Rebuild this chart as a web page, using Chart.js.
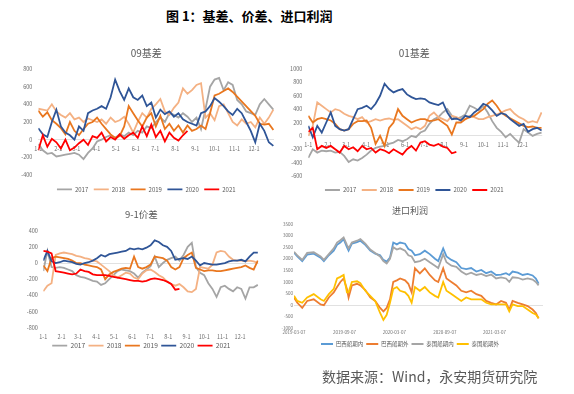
<!DOCTYPE html>
<html lang="zh-CN">
<head>
  <meta charset="UTF-8" />
  <title>基差、价差、进口利润</title>
  <script src="https://cdn.jsdelivr.net/npm/chart.js"></script>
  <style>
    * { box-sizing: border-box; margin: 0; padding: 0; }
    body {
      width: 574px;
      height: 394px;
      background: #fff;
      position: relative;
      overflow: hidden;
      font-family: 'Noto Sans CJK SC', 'Noto Sans', sans-serif;
    }
    #main-title {
      position: absolute; left: 166px; top: 9px;
      font-size: 13px; line-height: 1; font-weight: bold; color: #000;
      white-space: nowrap;
    }
    #source {
      position: absolute; left: 322px; top: 369px;
      font-size: 14px; line-height: 1; color: #595959;
      white-space: nowrap;
    }
    canvas { position: absolute; }
  </style>
</head>
<body>
  <div id="main-title">图 1：基差、价差、进口利润</div>

  <canvas id="c09" width="290" height="163" style="left:0;top:40px"></canvas>
  <canvas id="c01" width="290" height="163" style="left:280px;top:40px"></canvas>
  <canvas id="c91" width="290" height="160" style="left:0;top:200px"></canvas>
  <canvas id="cimp" width="306" height="158" style="left:268px;top:200px"></canvas>

  <div id="source">数据来源：Wind，永安期货研究院</div>

  <script>
    // ---- shared x axis for the seasonal panels (day of year) ----
    const DAYS = [0,7,14,21,28,35,42,49,56,63,70,77,84,91,98,105,112,119,126,133,140,147,154,161,168,175,
                  182,189,196,203,210,217,224,231,238,245,252,259,266,273,280,287,294,301,308,315,322,329,336,343,350,357,364];
    const MONTH_DAYS = [0,31,59,90,120,151,181,212,243,273,304,334];
    const MONTH_LABELS = ['1-1','2-1','3-1','4-1','5-1','6-1','7-1','8-1','9-1','10-1','11-1','12-1'];
    const YEARS = ['2017','2018','2019','2020','2021'];
    const YEAR_COLORS = ['#a5a5a5','#f4b183','#e9771f','#2f5597','#ff0000'];

    // ---- 09基差 ----
    const B09_2017 = [-50,-120,-160,-150,-190,-180,-170,-160,-150,-170,-220,-150,-100,-20,0,30,50,20,60,40,80,50,100,80,150,130,
                      200,250,200,300,280,250,300,260,200,250,120,350,600,680,700,560,650,620,450,400,320,300,280,400,460,400,340];
    const B09_2018 = [350,340,330,400,320,280,250,300,230,250,200,240,220,200,230,180,250,200,220,260,180,80,200,300,250,350,
                      400,460,320,280,360,420,580,520,560,620,640,250,300,220,380,400,300,200,160,230,180,200,140,250,180,250,340];
    const B09_2019 = [330,260,310,220,180,130,60,200,100,50,120,180,200,250,180,120,60,20,40,150,380,300,220,150,250,300,
                      150,270,120,180,100,160,80,160,100,120,160,120,300,500,520,550,580,540,null,null,null,null,270,180,170,180,110];
    const B09_2020 = [130,60,30,200,340,150,80,50,0,150,100,300,330,350,380,350,480,680,550,450,580,480,450,500,380,420,
                      250,340,290,320,260,300,230,200,180,160,300,320,380,470,430,380,320,280,350,300,200,100,-30,180,100,-30,-70];
    const B09_2021 = [-120,50,-80,10,-30,-100,0,-120,-90,-40,0,-60,40,20,80,-20,30,0,60,10,50,80,20,150,40,170,
                      30,100,-20,80,20,-10,50,100];

    // ---- 01基差 ----
    const B01_2017 = [-330,-200,-250,-220,-230,-220,-250,-240,-300,-390,-350,-370,-330,-280,-220,-180,-160,-150,-120,-100,-60,-80,-50,0,-20,50,
                      80,180,250,280,350,400,300,250,280,320,450,420,380,450,350,220,120,60,-20,30,-40,-100,100,50,0,30,50];
    const B01_2018 = [0,150,500,450,400,350,400,380,330,300,280,250,280,200,220,250,230,250,260,240,250,200,150,100,130,100,
                      150,300,350,280,250,220,300,280,250,250,300,280,250,250,280,300,320,350,380,400,330,280,250,200,220,200,350];
    const B01_2019 = [300,200,250,270,250,230,180,100,80,100,180,220,220,230,120,-120,0,-150,120,200,400,300,250,200,230,250,
                      250,220,230,250,200,150,20,200,200,250,280,300,350,400,480,530,450,350,300,null,null,null,150,130,140,120,120];
    const B01_2020 = [150,-20,150,50,200,350,150,100,80,100,250,400,420,450,400,480,600,780,700,650,680,700,620,580,550,560,
                      550,500,480,460,500,350,250,260,230,300,280,350,400,480,450,380,300,340,320,250,200,150,180,60,100,120,80];
    const B01_2021 = [60,120,-200,-150,-180,-150,-200,-250,-150,-200,-170,-230,-150,-200,-180,-250,-200,-220,-260,-200,-240,-280,-200,-150,-220,-100,
                      -80,-130,-150,-120,-160,-180,-260,-240];

    // ---- 9-1价差 ----
    const S91_2017 = [-100,150,-50,-60,-50,-60,-80,-100,-150,-170,-180,-200,-220,-230,-270,-250,-200,-150,-100,-80,-90,-100,-130,-180,-120,-80,
                      -40,80,-50,0,40,60,80,30,100,200,250,-50,-120,-150,-250,-320,-420,-300,-280,-320,-350,-300,-320,-440,-300,-300,-270];
    const S91_2018 = [-350,-280,-250,100,120,130,120,110,90,80,60,50,30,20,-20,-60,-100,-150,-180,-150,-120,-130,-180,-200,-130,-90,
                      -80,-110,-150,-180,-230,-260,-280,-260,-300,-350,-360,-320,-50,-60,-70,-20,130,150,140,80,40,30,30,20,30,20,0];
    const S91_2019 = [-30,-100,60,80,70,60,50,30,0,0,-20,-30,-40,-50,-80,-200,-140,-110,-90,-70,-60,-70,80,-50,-70,-50,
                      -20,80,70,60,30,-50,-80,-50,60,100,130,-60,-80,-100,-90,-90,-100,-100,-90,-80,-70,-60,-50,-30,-60,-80,30];
    const S91_2020 = [30,150,20,0,10,30,20,10,-10,-20,0,10,30,60,100,80,110,120,130,140,150,180,170,180,170,190,
                      220,280,260,220,200,150,40,50,60,50,80,30,-30,0,-10,-20,-20,-10,0,20,30,30,40,20,80,130,130];
    const S91_2021 = [150,140,120,-100,-110,-120,-130,-140,-130,-80,-100,-110,-140,-150,-150,-150,-160,-170,-180,-190,-200,-210,-220,-220,-230,-220,
                      -200,-190,-200,-210,-230,-260,-330,-320];

    // ---- 进口利润 (days since 2019-03-07) ----
    const IMP_DAYS = [0,12,30,48,72,97,109,127,145,157,169,181,193,199,211,230,242,260,278,296,314,326,338,350,362,375,387,405,417,
                      429,441,459,477,495,514,526,544,556,574,592,610,628,646,665,683,701,719,737,755,773,785,797,816,834,852,870,882,892];
    const IMP_TICK_DAYS = [0,184,366,550,731];
    const IMP_TICK_LABELS = ['2019-03-07','2019-09-07','2020-03-07','2020-09-07','2021-03-07'];
    const IMP_NAMES = ['巴西船期内','巴西船期外','泰国船期内','泰国船期外'];
    const IMP_COLORS = ['#5b9bd5','#ed7d31','#a5a5a5','#ffc000'];
    const BR_IN  = [2260,2100,1900,2180,2220,2050,1900,2150,2350,2600,2700,2850,2500,2350,2650,2720,2780,2600,2350,2220,2150,1950,1880,2050,2700,2620,2700,2650,2420,
                    2350,2150,2200,2350,2200,2000,1900,2450,2100,1950,1850,1600,1550,1600,1450,1520,1380,1450,1300,1320,1380,1300,1450,1400,1300,1350,1280,1150,930];
    const BR_OUT = [330,100,-120,180,250,30,0,330,550,780,1000,1150,700,330,850,920,850,650,330,180,-120,-270,-120,250,1000,1070,1150,1070,920,
                    550,1590,1370,1590,1300,1070,1000,1590,1150,1000,850,620,550,620,470,400,180,100,30,180,100,-190,180,100,30,-40,-190,-340,-570];
    const TH_IN  = [2300,2150,1950,2250,2280,2100,1950,2200,2450,2700,2800,2920,2600,2450,2700,2780,2850,2650,2400,2250,2100,1900,1800,2000,2500,2400,2450,2350,2150,
                    2100,1850,1900,2000,1850,1700,1600,2200,1850,1700,1650,1450,1320,1400,1300,1350,1250,1320,1150,1200,1150,1000,1200,1180,1100,1150,1100,1000,850];
    const TH_OUT = [400,180,100,330,475,250,180,475,700,1150,1220,1300,550,550,1000,1030,950,620,400,180,-340,-640,-420,100,700,780,620,550,400,
                    100,780,620,780,550,400,330,1000,620,475,330,180,330,250,250,250,100,30,30,30,30,-270,30,-40,-40,-190,-340,-400,-570];

    const FONT = "'Noto Sans CJK SC', 'Noto Sans', sans-serif";
    const TICK_COLOR = '#6f6f6f';
    const TEXT_COLOR = '#595959';

    function zeroGrid(ctx) {
      return ctx.tick && ctx.tick.value === 0 ? '#d9d9d9' : 'rgba(0,0,0,0)';
    }

    function makeChart(id, names, colors, xs, series, c) {
      const datasets = names.map((name, i) => ({
        label: name,
        data: series[i].map((v, j) => ({ x: xs[j], y: v })),
        borderColor: colors[i],
        backgroundColor: colors[i],
        borderWidth: 1.8,
        pointRadius: 0,
        spanGaps: true,
        order: names.length - i   // later series drawn on top, like the source
      }));

      const legendTitle = c.legendGap > 1.2
        ? { display: true, text: '', font: { size: 1 }, padding: { top: c.legendGap - 1.2, bottom: 0 } }
        : { display: false };

      return new Chart(document.getElementById(id), {
        type: 'line',
        data: { datasets },
        options: {
          responsive: false,
          animation: false,
          layout: { padding: c.pad },
          plugins: {
            title: {
              display: true, text: c.title, color: TEXT_COLOR,
              font: { family: FONT, size: c.titleSize, weight: 'normal' },
              padding: c.titlePad
            },
            legend: {
              position: 'bottom',
              title: legendTitle,
              labels: {
                usePointStyle: true, pointStyle: 'line', pointStyleWidth: c.boxWidth,
                padding: c.legendPad, color: TEXT_COLOR,
                font: { family: FONT, size: c.legendSize },
                sort: (a, b) => a.datasetIndex - b.datasetIndex
              }
            },
            tooltip: { enabled: false }
          },
          scales: {
            x: {
              type: 'linear', min: c.xMin, max: c.xMax,
              position: c.xAtZero ? { y: 0 } : 'bottom',
              afterBuildTicks: axis => { axis.ticks = c.xTicks.map(v => ({ value: v })); },
              afterFit: axis => { if (!c.xAtZero) axis.height = c.xHeight; },
              ticks: {
                autoSkip: false, maxRotation: 0, padding: c.xPad, color: TICK_COLOR,
                font: { family: FONT, size: c.tickSize },
                callback: (v, i) => c.xLabels[i]
              },
              grid: { display: false, drawTicks: false },
              border: { display: false }
            },
            y: {
              min: c.yMin, max: c.yMax,
              afterFit: axis => { axis.width = c.yWidth; },
              ticks: {
                stepSize: c.yStep, padding: c.yPad, color: TICK_COLOR,
                font: { family: FONT, size: c.tickSize },
                callback: v => String(v)
              },
              grid: { color: zeroGrid, lineWidth: 0.8, drawTicks: false },
              border: { display: false }
            }
          }
        }
      });
    }

    const seasonal = { xMin: 0, xMax: 365, xTicks: MONTH_DAYS, xLabels: MONTH_LABELS, boxWidth: 15 };

    makeChart('c09', YEARS, YEAR_COLORS, DAYS, [B09_2017, B09_2018, B09_2019, B09_2020, B09_2021], {
      ...seasonal, title: '09基差', titleSize: 10, titlePad: { top: 7.3, bottom: 9.7 },
      pad: { left: 18.5, right: 16, top: 0, bottom: 0.7 }, yWidth: 19.8, yPad: 6,
      yMin: -400, yMax: 800, yStep: 200, tickSize: 5.5, xAtZero: true, xPad: 6,
      legendSize: 6, legendPad: 5.5, legendGap: 5.8
    });

    makeChart('c01', YEARS, YEAR_COLORS, DAYS, [B01_2017, B01_2018, B01_2019, B01_2020, B01_2021], {
      ...seasonal, title: '01基差', titleSize: 10, titlePad: { top: 7.3, bottom: 9.7 },
      pad: { left: 6.3, right: 27.8, top: 0, bottom: 0 }, yWidth: 22, yPad: 6,
      yMin: -600, yMax: 1000, yStep: 200, tickSize: 5.5, xAtZero: true, xPad: 5.3,
      legendSize: 6, legendPad: 5.5, legendGap: 5.5
    });

    makeChart('c91', YEARS, YEAR_COLORS, DAYS, [S91_2017, S91_2018, S91_2019, S91_2020, S91_2021], {
      ...seasonal, title: '9-1价差', titleSize: 9.5, titlePad: { top: 8.3, bottom: 11 },
      pad: { left: 24.3, right: 31.6, top: 0, bottom: 1 }, yWidth: 19, yPad: 5.5,
      yMin: -800, yMax: 400, yStep: 200, tickSize: 5.5, xAtZero: false, xPad: 6, xHeight: 11.3,
      legendSize: 6.6, legendPad: 3.4, legendGap: 0
    });

    makeChart('cimp', IMP_NAMES, IMP_COLORS, IMP_DAYS, [BR_IN, BR_OUT, TH_IN, TH_OUT], {
      title: '进口利润', titleSize: 9, titlePad: { top: 5.6, bottom: 7.6 },
      xMin: 0, xMax: 908, xTicks: IMP_TICK_DAYS, xLabels: IMP_TICK_LABELS, boxWidth: 12,
      pad: { left: 9, right: 31, top: 0, bottom: 1.25 }, yWidth: 17, yPad: 1,
      yMin: -1000, yMax: 3500, yStep: 500, tickSize: 4.5, xAtZero: false, xPad: 1, xHeight: 8,
      legendSize: 5.5, legendPad: 3, legendGap: 1.95
    });
  </script>
</body>
</html>
